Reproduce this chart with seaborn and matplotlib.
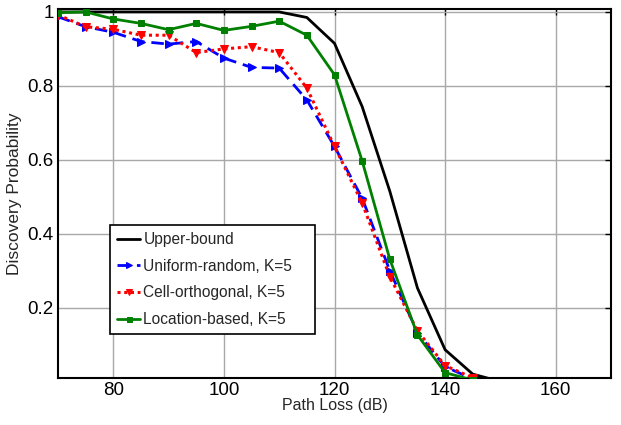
import matplotlib
matplotlib.use("Agg")
import matplotlib.pyplot as plt
import seaborn as sns
import pandas as pd

path_loss = [70, 75, 80, 85, 90, 95, 100, 105, 110, 115, 120, 125, 130, 135, 140, 145, 150]
upper_bound = [1.0, 1.0, 1.0, 1.0, 1.0, 1.0, 1.0, 1.0, 1.0, 0.985, 0.915, 0.744, 0.515, 0.253, 0.086, 0.02, 0.0]
uniform_random = [0.987, 0.96, 0.945, 0.92, 0.913, 0.92, 0.875, 0.85, 0.848, 0.762, 0.636, 0.496, 0.30, 0.132, 0.04, 0.007]
cell_orthogonal = [0.992, 0.96, 0.953, 0.937, 0.937, 0.89, 0.90, 0.906, 0.89, 0.794, 0.636, 0.483, 0.284, 0.137, 0.043, 0.01]
location_based = [0.998, 1.0, 0.981, 0.969, 0.952, 0.969, 0.95, 0.961, 0.975, 0.937, 0.83, 0.597, 0.331, 0.126, 0.024, 0.004]

labels = ["Upper-bound", "Uniform-random, K=5", "Cell-orthogonal, K=5", "Location-based, K=5"]
x_ticks = [80, 100, 120, 140, 160]
y_ticks = [0.2, 0.4, 0.6, 0.8, 1.0]
y_tick_labels = ["0.2", "0.4", "0.6", "0.8", "1"]

sns.set_style("white")
plt.rcParams["font.family"] = ["Liberation Sans", "DejaVu Sans"]

fig = plt.figure(figsize=(6.21, 4.25), dpi=100)
ax = fig.add_axes([0.0934, 0.111, 0.8905, 0.867])

series = [
    (path_loss, upper_bound, labels[0], "black", "-", None, 2.0, 0),
    (path_loss[:len(uniform_random)], uniform_random, labels[1], "#0000ff", (0, (4.5, 2.5)), ">", 2.0, 5.5),
    (path_loss[:len(cell_orthogonal)], cell_orthogonal, labels[2], "#ff0000", (0, (1, 1.2)), "v", 2.2, 5.5),
    (path_loss[:len(location_based)], location_based, labels[3], "#008000", "-", "s", 2.0, 4.5),
]

for xs, ys, lab, col, ls, mk, lw, ms in series:
    df = pd.DataFrame({"x": xs, "y": ys})
    sns.lineplot(data=df, x="x", y="y", ax=ax, color=col, linestyle=ls, linewidth=lw,
                 marker=mk, markersize=ms, markeredgecolor=col, markerfacecolor=col,
                 label=lab, zorder=3)

ax.set_xlim(70, 170)
ax.set_ylim(0.01, 1.007)
ax.set_xticks(x_ticks)
ax.set_xticklabels([str(v) for v in x_ticks])
ax.set_yticks(y_ticks)
ax.set_yticklabels(y_tick_labels)
ax.tick_params(axis="both", direction="in", length=4, width=1, labelsize=13.5,
               top=True, right=True, colors="black", pad=3)
ax.grid(True, color="#a8a8a8", linewidth=1.0, linestyle="-")
for sp in ax.spines.values():
    sp.set_color("black")
    sp.set_linewidth(1.5)

ax.set_xlabel("Path Loss (dB)", fontsize=11.5, labelpad=-1)
ax.set_ylabel("Discovery Probability", fontsize=12.5, labelpad=4)

leg = ax.legend(loc="lower left", bbox_to_anchor=(0.094, 0.119, 0.371, 0.3), mode="expand",
                fontsize=11.2, markerscale=0.8,
                frameon=True, fancybox=False, framealpha=1, edgecolor="black",
                handlelength=1.5, handletextpad=0.2, borderpad=0.45,
                labelspacing=0.75, borderaxespad=0)
leg.get_frame().set_linewidth(1.2)

fig.savefig("out.png", dpi=100)
